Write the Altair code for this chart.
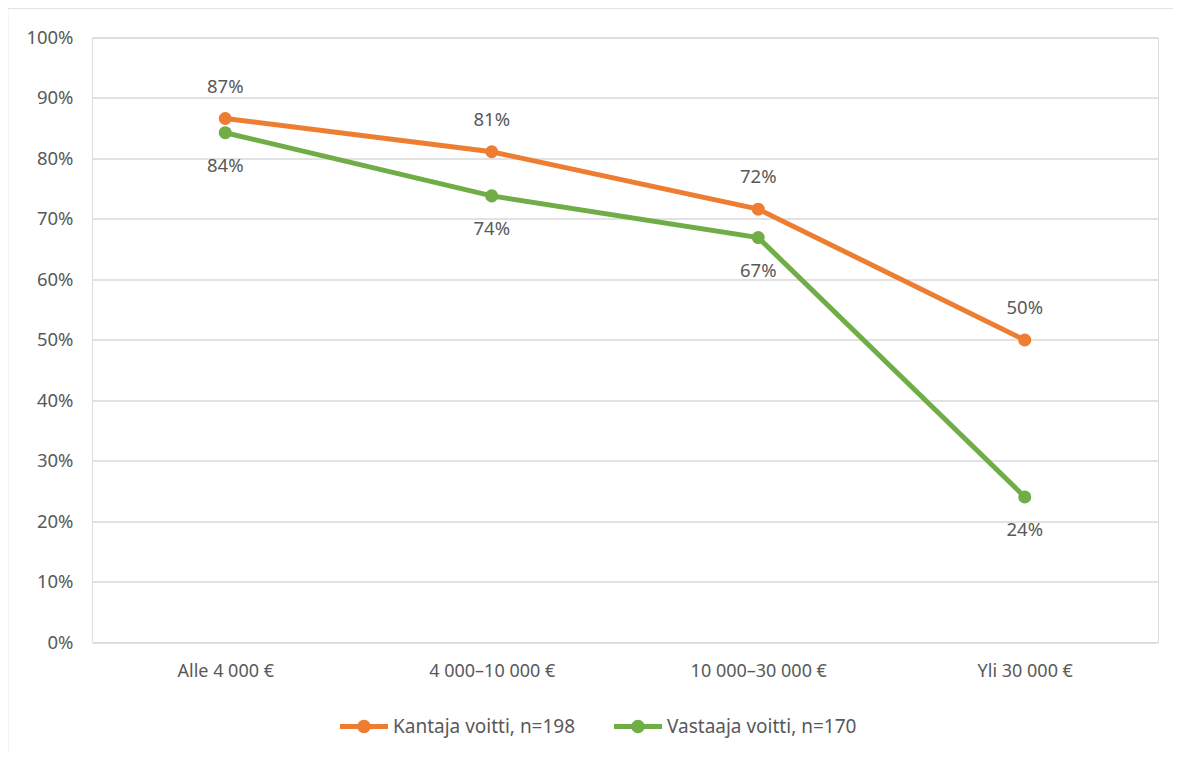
import altair as alt
import pandas as pd

categories = ["Alle 4 000 €", "4 000–10 000 €", "10 000–30 000 €", "Yli 30 000 €"]
series_names = ["Kantaja voitti, n=198", "Vastaaja voitti, n=170"]
kantaja = [0.866, 0.811, 0.716, 0.4996]
vastaaja = [0.8425, 0.738, 0.669, 0.240]
colors = ["#ED7D31", "#70AD47"]
y_ticks = [i / 10 for i in range(11)]

rows = []
for c, v in zip(categories, kantaja):
    rows.append({"cat": c, "series": series_names[0], "value": v})
for c, v in zip(categories, vastaaja):
    rows.append({"cat": c, "series": series_names[1], "value": v})
df = pd.DataFrame(rows)

FONT = "Noto Sans"
GRAY = "#595959"

x_enc = alt.X("cat:N", sort=categories, title=None,
              scale=alt.Scale(type="point", padding=0.5),
              axis=alt.Axis(labelAngle=0, ticks=False, domain=False, grid=False,
                            labelPadding=20, labelFontSize=18, labelColor=GRAY,
                            labelFont=FONT, labelLimit=300))
y_enc = alt.Y("value:Q", title=None,
              scale=alt.Scale(domain=[0, 1]),
              axis=alt.Axis(values=y_ticks, format=".0%", ticks=False, domain=False,
                            grid=True, gridColor="#d9d9d9", gridWidth=1.5,
                            labelPadding=19, labelFontSize=18.5, labelColor=GRAY,
                            labelFont=FONT))
sym_path = ("M-1,-0.1H1V0.1H-1Z "
            "M-0.28,0A0.28,0.28 0 1,1 0.28,0A0.28,0.28 0 1,1 -0.28,0Z")
color_enc = alt.Color("series:N", sort=series_names,
                      scale=alt.Scale(domain=series_names, range=colors),
                      legend=alt.Legend(title=None, orient="none", direction="horizontal",
                                        legendX=248, legendY=665, symbolType=sym_path,
                                        symbolSize=2304, symbolStrokeWidth=0,
                                        symbolOpacity=1, labelLimit=400,
                                        labelFontSize=19, labelColor=GRAY, labelFont=FONT,
                                        labelOffset=5, columnPadding=38, padding=0))

base = alt.Chart(df)
lines = base.mark_line(strokeWidth=5).encode(x=x_enc, y=y_enc, color=color_enc)
points = base.mark_circle(size=170, opacity=1).encode(x=x_enc, y=y_enc, color=color_enc)

lab_k = base.transform_filter(alt.datum.series == series_names[0]).mark_text(
    dy=-32, fontSize=18.5, font=FONT, color=GRAY).encode(
    x=x_enc, y=y_enc, text=alt.Text("value:Q", format=".0%"))
lab_v = base.transform_filter(alt.datum.series == series_names[1]).mark_text(
    dy=33, fontSize=18.5, font=FONT, color=GRAY).encode(
    x=x_enc, y=y_enc, text=alt.Text("value:Q", format=".0%"))

border_top = alt.Chart(pd.DataFrame({"a": [0]})).mark_rule(
    color="#d9d9d9", strokeWidth=1.5, clip=False).encode(
    x=alt.value(-84), x2=alt.value(1081), y=alt.value(-29.5))
border_left = alt.Chart(pd.DataFrame({"a": [0]})).mark_rule(
    color="#d9d9d9", strokeWidth=1.5, clip=False).encode(
    x=alt.value(-84.5), y=alt.value(-30), y2=alt.value(722))

chart = alt.layer(border_top, border_left, lines, points, lab_k, lab_v).properties(
    width=1066, height=604.5,
    autosize=alt.AutoSizeParams(type="none"),
    padding={"left": 84, "top": 29.5, "right": 15, "bottom": 110},
).configure_view(stroke=None).configure(background="white")

chart.save("out.html", embed_options={"renderer": "svg", "actions": False})
